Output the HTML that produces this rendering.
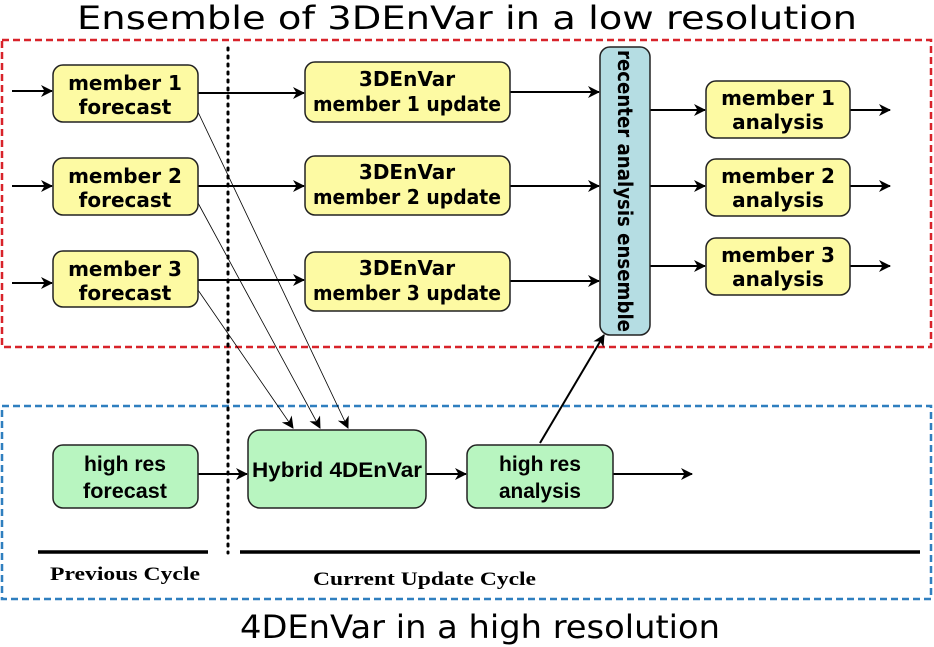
<!DOCTYPE html>
<html><head><style>body{margin:0;background:#fff}svg{display:block}</style></head><body>
<svg width="934" height="647" viewBox="0 0 934 647" xmlns="http://www.w3.org/2000/svg">
<defs><marker id="a" markerWidth="12" markerHeight="12" refX="11" refY="6" orient="auto" markerUnits="userSpaceOnUse"><path d="M0,0 L12,6 L0,12 L3.5,6z" fill="#000"/></marker></defs>
<text x="467" y="29" font-family="DejaVu Sans, sans-serif" font-size="32" text-anchor="middle" textLength="780" lengthAdjust="spacingAndGlyphs">Ensemble of 3DEnVar in a low resolution</text>
<text x="480" y="638" font-family="DejaVu Sans, sans-serif" font-size="32" text-anchor="middle" textLength="480" lengthAdjust="spacingAndGlyphs">4DEnVar in a high resolution</text>
<rect x="2" y="40" width="929" height="307" fill="none" stroke="#d8232a" stroke-width="2.5" stroke-dasharray="7,4"/>
<rect x="2" y="406" width="929" height="193" fill="none" stroke="#2f7fbf" stroke-width="2.5" stroke-dasharray="7,4"/>
<line x1="228" y1="48" x2="228" y2="553" stroke="#000" stroke-width="3" stroke-dasharray="2,6" stroke-linecap="round"/>
<g stroke="#000" stroke-width="2" marker-end="url(#a)">
<line x1="12" y1="91" x2="52" y2="91"/><line x1="12" y1="186" x2="52" y2="186"/><line x1="12" y1="283" x2="52" y2="283"/>
<line x1="198" y1="93" x2="304" y2="93"/><line x1="198" y1="186" x2="304" y2="186"/><line x1="198" y1="280" x2="304" y2="280"/>
<line x1="510" y1="92" x2="599" y2="92"/><line x1="510" y1="186" x2="599" y2="186"/><line x1="510" y1="281" x2="599" y2="281"/>
<line x1="650" y1="110" x2="705" y2="110"/><line x1="650" y1="186" x2="705" y2="186"/><line x1="650" y1="266" x2="705" y2="266"/>
<line x1="850" y1="110" x2="890" y2="110"/><line x1="850" y1="186" x2="890" y2="186"/><line x1="850" y1="266" x2="890" y2="266"/>
<line x1="198" y1="474" x2="247" y2="474"/><line x1="426" y1="474" x2="466" y2="474"/><line x1="613" y1="474" x2="692" y2="474"/>
<line x1="540" y1="443" x2="604" y2="335"/>
</g>
<g stroke="#000" stroke-width="0.8" marker-end="url(#a)">
<line x1="198" y1="112" x2="348" y2="428"/><line x1="198" y1="203" x2="320" y2="428"/><line x1="198" y1="290" x2="293" y2="428"/>
</g>
<g fill="#fdfaa3" stroke="#222" stroke-width="1.5">
<rect x="53" y="65" width="145" height="57" rx="10"/><rect x="53" y="158" width="145" height="57" rx="10"/><rect x="53" y="251" width="145" height="56" rx="10"/>
<rect x="305" y="62" width="205" height="60" rx="10"/><rect x="305" y="156" width="205" height="59" rx="10"/><rect x="305" y="252" width="205" height="59" rx="10"/>
<rect x="706" y="81" width="144" height="57" rx="10"/><rect x="706" y="159" width="144" height="57" rx="10"/><rect x="706" y="238" width="144" height="57" rx="10"/>
</g>
<rect x="600" y="47" width="50" height="288" rx="10" fill="#b5dde3" stroke="#222" stroke-width="1.5"/>
<g fill="#b8f5c0" stroke="#222" stroke-width="1.5">
<rect x="53" y="445" width="145" height="63" rx="10"/><rect x="248" y="430" width="178" height="78" rx="12"/><rect x="467" y="445" width="146" height="63" rx="10"/>
</g>
<g font-family="DejaVu Sans, sans-serif" font-weight="bold" font-size="20" text-anchor="middle">
<text x="125" y="90">member 1</text><text x="125" y="114">forecast</text>
<text x="125" y="183">member 2</text><text x="125" y="207">forecast</text>
<text x="125" y="276">member 3</text><text x="125" y="300">forecast</text>
<text x="407" y="86">3DEnVar</text><text x="407" y="111" textLength="188" lengthAdjust="spacingAndGlyphs">member 1 update</text>
<text x="407" y="179">3DEnVar</text><text x="407" y="204" textLength="188" lengthAdjust="spacingAndGlyphs">member 2 update</text>
<text x="407" y="275">3DEnVar</text><text x="407" y="300" textLength="188" lengthAdjust="spacingAndGlyphs">member 3 update</text>
<text x="778" y="105">member 1</text><text x="778" y="129">analysis</text>
<text x="778" y="183">member 2</text><text x="778" y="207">analysis</text>
<text x="778" y="262">member 3</text><text x="778" y="286">analysis</text>
<text transform="translate(618,191) rotate(90)" font-size="20" textLength="282" lengthAdjust="spacingAndGlyphs">recenter analysis ensemble</text>
</g>
<g font-family="Liberation Sans Narrow, Liberation Sans, sans-serif" font-weight="bold" font-size="21" text-anchor="middle">
<text x="125" y="471" textLength="82" lengthAdjust="spacingAndGlyphs">high res</text><text x="125" y="498" textLength="84" lengthAdjust="spacingAndGlyphs">forecast</text>
<text x="337" y="477" textLength="170" lengthAdjust="spacingAndGlyphs">Hybrid 4DEnVar</text>
<text x="540" y="471" textLength="82" lengthAdjust="spacingAndGlyphs">high res</text><text x="540" y="498" textLength="82" lengthAdjust="spacingAndGlyphs">analysis</text>
</g>
<line x1="38" y1="552" x2="208" y2="552" stroke="#000" stroke-width="3.5"/>
<line x1="240" y1="552" x2="920" y2="552" stroke="#000" stroke-width="3.5"/>
<g font-family="Liberation Serif, serif" font-weight="bold" font-size="19">
<text x="50" y="580" textLength="150" lengthAdjust="spacingAndGlyphs">Previous Cycle</text><text x="313" y="585" textLength="223" lengthAdjust="spacingAndGlyphs">Current Update Cycle</text>
</g>
</svg>
</body></html>
